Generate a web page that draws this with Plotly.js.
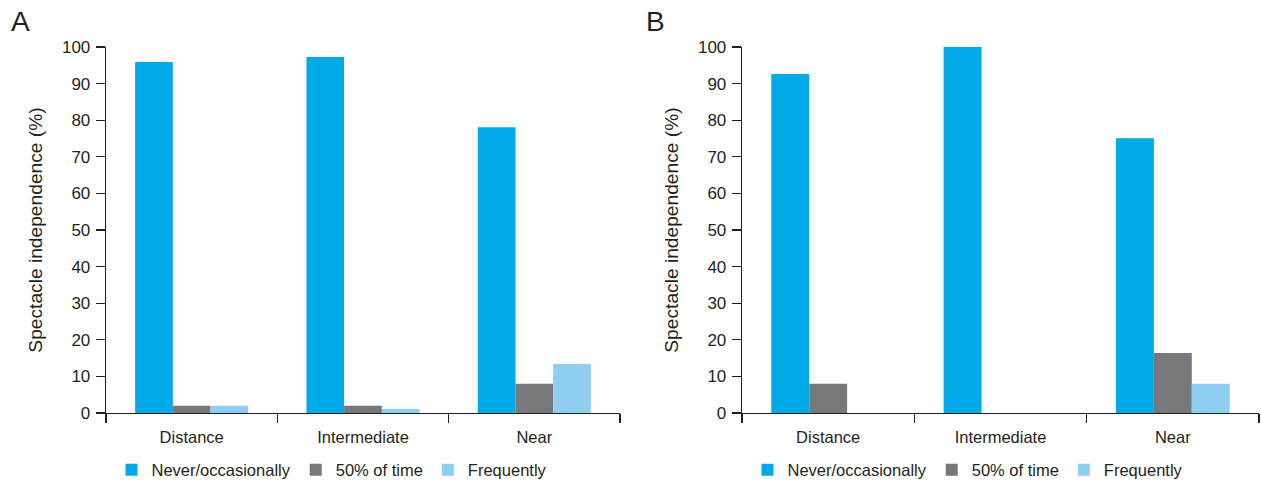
<!DOCTYPE html>
<html>
<head>
<meta charset="utf-8">
<script src="https://cdn.plot.ly/plotly-3.0.1.min.js"></script>
<style>html,body{margin:0;padding:0;background:#fff;}#chart{width:1261px;height:480px;}</style>
</head>
<body>
<div id="chart"></div>
<script>
const categories = ["Distance", "Intermediate", "Near"];
const seriesNames = ["Never/occasionally", "50% of time", "Frequently"];
const panelA_never = [95.9, 97.3, 78.1];
const panelA_half = [2.0, 2.0, 8.0];
const panelA_freq = [2.0, 1.1, 13.4];
const panelB_never = [92.6, 100, 75.1];
const panelB_half = [8.0, 0, 16.4];
const panelB_freq = [0, 0, 8.0];
const yTickVals = [0, 10, 20, 30, 40, 50, 60, 70, 80, 90, 100];
const colors = ["#00aae6", "#77787b", "#8ecef0"];

const FONT = "Liberation Sans, Arial, Helvetica, sans-serif";
const TXT = "#231f20";

function mk(vals, i, xa, ya, leg) {
  return {type: "bar", x: categories, y: vals, name: seriesNames[i],
    marker: {color: colors[i], line: {width: 0}}, xaxis: xa, yaxis: ya,
    legend: leg, hoverinfo: "y"};
}
const data = [
  mk(panelA_never, 0, "x", "y", "legend"),
  mk(panelA_half, 1, "x", "y", "legend"),
  mk(panelA_freq, 2, "x", "y", "legend"),
  mk(panelB_never, 0, "x2", "y2", "legend2"),
  mk(panelB_half, 1, "x2", "y2", "legend2"),
  mk(panelB_freq, 2, "x2", "y2", "legend2")
];

const W = 1261, H = 480;
const yDom = [(H - 413) / H, (H - 47) / H];
function xAxis(dom, anchor) {
  return {domain: dom, anchor: anchor, type: "category", range: [-0.5, 2.5],
    tickson: "boundaries", ticks: "outside", ticklen: 9, tickwidth: 1.3, tickcolor: TXT,
    ticklabelstandoff: 9,
    showline: true, linecolor: TXT, linewidth: 1.3, showgrid: false, zeroline: false,
    tickfont: {family: FONT, size: 16.5, color: TXT}, fixedrange: true};
}
function yAxis(anchor) {
  return {domain: yDom, anchor: anchor, range: [0, 100], tickmode: "array", tickvals: yTickVals,
    ticks: "outside", ticklen: 9, tickwidth: 1.3, tickcolor: TXT, ticklabelstandoff: 2,
    showline: true, linecolor: TXT, linewidth: 1.3, showgrid: false, zeroline: false,
    tickfont: {family: FONT, size: 17, color: TXT},
    title: {text: "Spectacle independence (%)", font: {family: FONT, size: 19.2, color: TXT}, standoff: 14},
    fixedrange: true};
}
function legend(x) {
  return {orientation: "h", x: x, xanchor: "center", y: (H - 470) / H, yanchor: "middle",
    font: {family: FONT, size: 16.5, color: TXT}, bgcolor: "rgba(0,0,0,0)", itemwidth: 30,
    traceorder: "normal", itemclick: false};
}
const layout = {
  width: W, height: H, margin: {l: 0, r: 0, t: 0, b: 0, autoexpand: false},
  paper_bgcolor: "#fff", plot_bgcolor: "#fff",
  barmode: "group", bargap: 0.34, bargroupgap: 0,
  showlegend: true,
  xaxis: xAxis([106 / W, 620 / W], "y"),
  yaxis: yAxis("x"),
  xaxis2: xAxis([742 / W, 1259 / W], "y2"),
  yaxis2: yAxis("x2"),
  legend: legend(332 / W),
  legend2: legend(968 / W),
  annotations: [
    {text: "A", xref: "paper", yref: "paper", x: 9 / W, y: (H - 22) / H, xanchor: "left", yanchor: "middle",
      showarrow: false, font: {family: FONT, size: 28, color: TXT}},
    {text: "B", xref: "paper", yref: "paper", x: 644 / W, y: (H - 22) / H, xanchor: "left", yanchor: "middle",
      showarrow: false, font: {family: FONT, size: 28, color: TXT}}
  ]
};
Plotly.newPlot("chart", data, layout, {displayModeBar: false, staticPlot: true});
</script>
</body>
</html>
